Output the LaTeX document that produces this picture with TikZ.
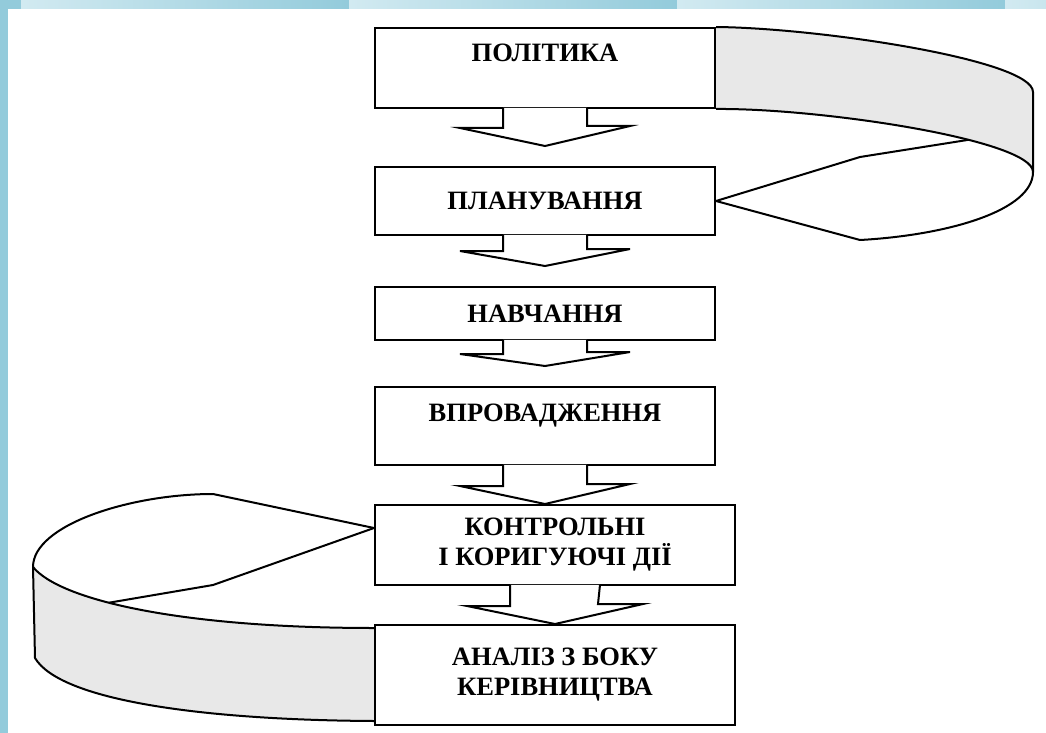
\documentclass[tikz,border=0pt]{standalone}
\usepackage{fontspec}
\setmainfont{Liberation Serif}
\definecolor{slideblue}{HTML}{93CBDB}
\definecolor{slidelight}{HTML}{D2EAF1}
\definecolor{ribbongray}{HTML}{E8E8E8}
\begin{document}
\begin{tikzpicture}[x=1pt,y=-1pt,
    stage/.style={draw, line width=2pt, inner sep=0pt, align=center,
      font=\fontsize{26.5}{30}\selectfont\bfseries},
    textup/.style={text height=17.5pt, text depth=#1},
    flow/.style={line width=2pt, fill=white, line join=miter},
    rib/.style={line width=2pt, line join=round},
    band/.style={fill=ribbongray}]
      \useasboundingbox (0,0) rectangle (1046,733);
      % slide frame
      \fill[slideblue] (0,0) rectangle (8,733);
      \fill[slideblue] (0,0) rectangle (21,9);
      \shade[left color=slidelight, right color=slideblue] (21,0) rectangle (349,9);
      \shade[left color=slidelight, right color=slideblue] (349,0) rectangle (677,9);
      \shade[left color=slidelight, right color=slideblue] (677,0) rectangle (1005,9);
      \shade[left color=slidelight, right color=slidelight!85!slideblue] (1005,0) rectangle (1046,9);
      % ribbon coordinates
      \coordinate (rimR) at (1033,92);
      \coordinate (rimRb) at (1033,172);
      \coordinate (rimL) at (33,567);
      \coordinate (rimLb) at (35,658);
      % shaded faces of the ribbons
      \fill[band] (715,28) .. controls (820,28) and (1033,60) .. (rimR) -- (rimRb)
        .. controls (1033,140) and (820,108) .. (715,108) -- cycle;
      \fill[band] (rimL) .. controls (60,600) and (180,628) .. (375,629) -- (375,720)
        .. controls (200,720) and (60,700) .. (rimLb) -- cycle;
      % stages
      \node[stage, textup=31pt, minimum width=340pt, minimum height=80pt] (pol) at (545,68) {ПОЛІТИКА};
      \node[stage, minimum width=340pt, minimum height=68pt] (plan) at (545,201) {ПЛАНУВАННЯ};
      \node[stage, minimum width=340pt, minimum height=53pt] (train) at (545,313.5) {НАВЧАННЯ};
      \node[stage, textup=27pt, minimum width=340pt, minimum height=78pt] (impl) at (545,426) {ВПРОВАДЖЕННЯ};
      \node[stage, minimum width=360pt, minimum height=80pt] (ctrl) at (555,545) {КОНТРОЛЬНІ\\І КОРИГУЮЧІ ДІЇ};
      \node[stage, minimum width=360pt, minimum height=100pt] (review) at (555,675) {АНАЛІЗ З БОКУ\\КЕРІВНИЦТВА};
      % arrows between stages
      \draw[flow] ([xshift=-42pt,yshift=1.2pt]pol.south) -- ++(0,20.2) -- ++(-43,0) -- ([yshift=20pt]plan.north)
        -- ++(85,-20) -- ++(-43,0) -- ([xshift=42pt,yshift=1.2pt]pol.south);
      \draw[flow] ([xshift=-42pt,yshift=1.2pt]plan.south) -- ++(0,16.2) -- ++(-43,0) -- ([yshift=20pt]train.north)
        -- ++(85,-17) -- ++(-43,0) -- ([xshift=42pt,yshift=1.2pt]plan.south);
      \draw[flow] ([xshift=-42pt,yshift=1.2pt]train.south) -- ++(0,14.2) -- ++(-43,0) -- ([yshift=20pt]impl.north)
        -- ++(85,-14) -- ++(-43,0) -- ([xshift=42pt,yshift=1.2pt]train.south);
      \draw[flow] ([xshift=-42pt,yshift=1.2pt]impl.south) -- ++(0,21.2) -- ++(-43,0) -- (impl.south |- ctrl.north)
        -- ++(85,-20) -- ++(-43,0) -- ([xshift=42pt,yshift=1.2pt]impl.south);
      \draw[flow] ([xshift=-45pt,yshift=1.2pt]ctrl.south) -- ++(0,21.2) -- ++(-43,0) -- (review.north)
        -- ++(88,-20) -- ++(-45,0) -- ([xshift=45pt,yshift=1.2pt]ctrl.south);
      % ribbon from policy back to planning
      \draw[rib] (pol.north east) .. controls (820,28) and (1033,60) .. (rimR) -- (rimRb);
      \draw[rib] (pol.south east) .. controls (820,108) and (1033,140) .. (rimRb) coordinate[pos=0.65] (twistR);
      \draw[rib] (rimRb) .. controls (1033,210) and (950,235) .. (860,240) -- (plan.east);
      \draw[rib] (plan.east) -- (860,157) -- (twistR);
      % ribbon from control back to review
      \draw[rib] (rimL) .. controls (60,600) and (180,628) .. ([yshift=-4pt]review.north west) coordinate[pos=0.4] (twistL);
      \draw[rib] (rimL) -- (rimLb) .. controls (60,700) and (200,720) .. ([yshift=5pt]review.south west);
      \draw[rib] ([yshift=17pt]ctrl.west) -- (213,494) .. controls (130,494) and (33,525) .. (rimL);
      \draw[rib] ([yshift=17pt]ctrl.west) -- (213,585) -- (twistL);
    \end{tikzpicture}
\end{document}
